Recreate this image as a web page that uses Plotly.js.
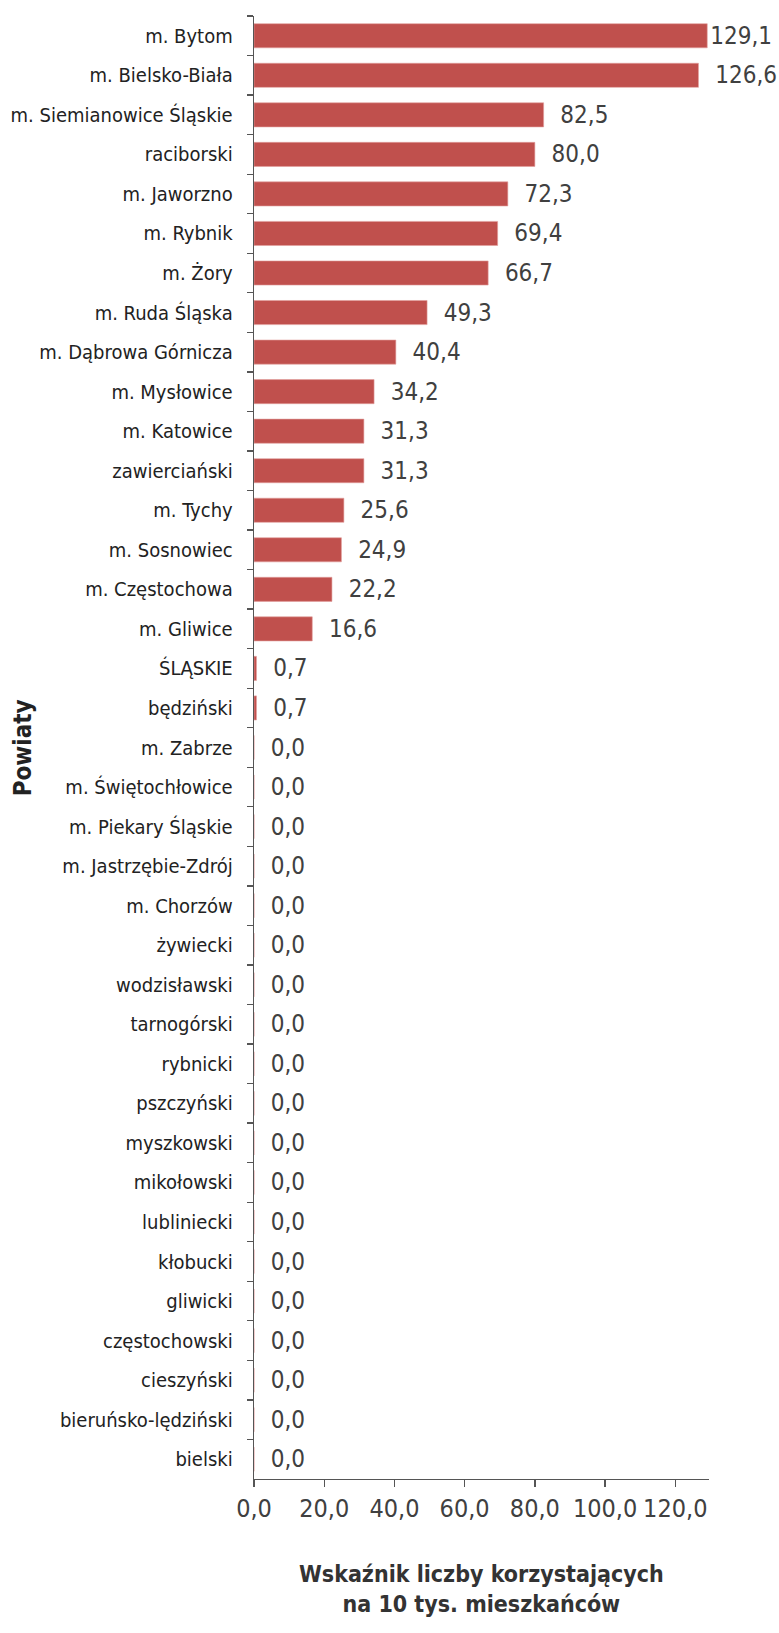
<!DOCTYPE html>
<html><head><meta charset="utf-8">
<script src="https://cdn.plot.ly/plotly-3.0.1.min.js"></script>
<style>body{margin:0;padding:0;background:#fff}#chart{width:779px;height:1633px}</style>
</head><body><div id="chart"></div>
<script>
const categories = ["m. Bytom","m. Bielsko-Biała","m. Siemianowice Śląskie","raciborski","m. Jaworzno","m. Rybnik","m. Żory","m. Ruda Śląska","m. Dąbrowa Górnicza","m. Mysłowice","m. Katowice","zawierciański","m. Tychy","m. Sosnowiec","m. Częstochowa","m. Gliwice","ŚLĄSKIE","będziński","m. Zabrze","m. Świętochłowice","m. Piekary Śląskie","m. Jastrzębie-Zdrój","m. Chorzów","żywiecki","wodzisławski","tarnogórski","rybnicki","pszczyński","myszkowski","mikołowski","lubliniecki","kłobucki","gliwicki","częstochowski","cieszyński","bieruńsko-lędziński","bielski"];
const values = [129.1,126.6,82.5,80.0,72.3,69.4,66.7,49.3,40.4,34.2,31.3,31.3,25.6,24.9,22.2,16.6,0.7,0.7,0,0,0,0,0,0,0,0,0,0,0,0,0,0,0,0,0,0,0];
const xTickVals = [0,20,40,60,80,100,120];
const xTitle = "Wskaźnik liczby korzystających<br>na 10 tys. mieszkańców";
const yTitle = "Powiaty";

const font = "'DejaVu Sans Condensed', 'Liberation Sans Narrow', 'Arial Narrow', 'Liberation Sans', Arial, sans-serif";
const xMax = 129.6;
// labels near the right page edge get less padding so they stay on the page
const templates = values.map(v => v > 128 ? '%{x:.1f}' : '\u00a0\u00a0%{x:.1f}');
const trace = {
  type: 'bar', orientation: 'h',
  x: values, y: categories,
  marker: {color: '#c0504d', line: {color: '#e3a09e', width: 0.6}},
  texttemplate: templates, textposition: 'outside',
  textfont: {family: font, size: 24, color: '#404040'},
  cliponaxis: false, constraintext: 'none',
  hoverinfo: 'skip'
};
const layout = {
  width: 779, height: 1633,
  margin: {l: 254, r: 70, t: 16, b: 154},
  separators: ', ',
  showlegend: false,
  bargap: 0.39,
  paper_bgcolor: '#fff', plot_bgcolor: '#fff',
  font: {family: font, color: '#222'},
  xaxis: {
    range: [0, xMax], tickvals: xTickVals, tickformat: '.1f',
    showgrid: false, zeroline: false,
    showline: true, linecolor: '#555', linewidth: 1.3,
    ticks: 'outside', ticklen: 7, tickcolor: '#555', tickwidth: 1.3,
    tickfont: {family: font, size: 25, color: '#404040'},
    fixedrange: true
  },
  yaxis: {
    type: 'category', autorange: 'reversed',
    showgrid: false, zeroline: false,
    showline: true, linecolor: '#555', linewidth: 1.3,
    ticks: 'outside', ticklen: 6, tickcolor: '#555', tickwidth: 1.3,
    tickson: 'boundaries', ticklabelstandoff: 16,
    tickfont: {family: font, size: 20, color: '#222'},
    fixedrange: true
  },
  annotations: [
    {text: '<b>' + yTitle + '</b>', xref: 'paper', yref: 'paper', x: -0.508, xanchor: 'center', y: 0.5, yanchor: 'middle',
     textangle: -90, showarrow: false, font: {family: font, size: 24, color: '#222'}},
    {text: '<b>' + xTitle + '</b>', xref: 'paper', yref: 'paper', x: 0.5, xanchor: 'center', y: 0, yanchor: 'top',
     yshift: -80, showarrow: false, font: {family: font, size: 23, color: '#333'}}
  ]
};
Plotly.newPlot('chart', [trace], layout, {displayModeBar: false, staticPlot: true});
</script></body></html>
